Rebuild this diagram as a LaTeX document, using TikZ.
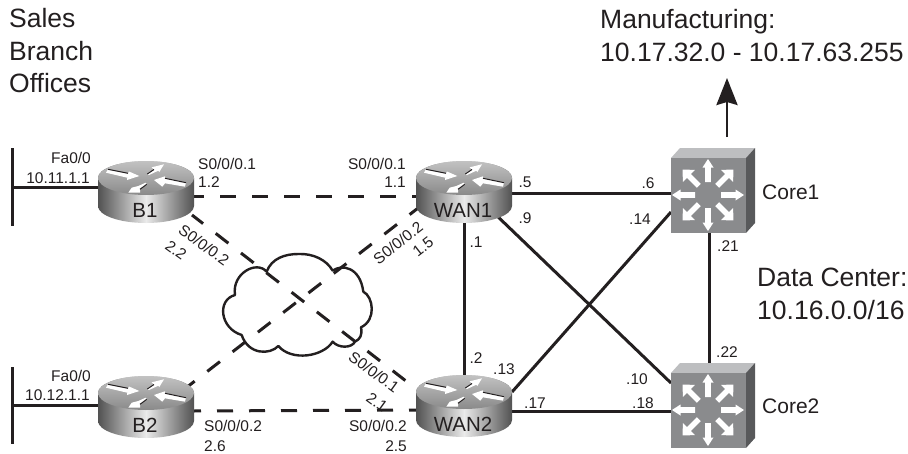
\documentclass[tikz,border=0pt]{standalone}
\usepackage{fontspec}
\setmainfont{Liberation Sans}
\usetikzlibrary{arrows.meta,calc}
\pgfdeclarelayer{bg}
\pgfsetlayers{bg,main}
\definecolor{swfront}{HTML}{8A8B8D}
\definecolor{swtop}{HTML}{BDBEC0}
\definecolor{swside}{HTML}{58595B}
\definecolor{ink}{HTML}{231F20}
\tikzset{
  big/.style={font=\fontsize{26.5}{32.7}\selectfont,text=ink,inner sep=0pt,align=left},
  small/.style={font=\fontsize{15.5}{17}\selectfont,text=ink,inner sep=0pt},
  devname/.style={font=\fontsize{20.5}{22}\selectfont,text=ink,inner sep=0pt},
  sideName/.style={font=\fontsize{21}{23}\selectfont,text=ink,inner sep=0pt},
  solidlink/.style={draw=ink,line width=3pt},
  dashlink/.style={draw=ink,line width=3pt,dash pattern=on 16pt off 16pt},
  arrowedge/.style={draw=ink,line width=1pt},
}
% name, cx, ytop, label
\newcommand{\router}[4]{%
  \begin{scope}[shift={(#2,#3)}]
    \path[left color=black!68,right color=black!68,middle color=white!92!black]
      (-48,17) -- (-48,45) arc[start angle=180,end angle=0,x radius=48,y radius=17] -- (48,17)
      arc[start angle=0,end angle=-180,x radius=48,y radius=17] -- cycle;
    \path[top color=black!24,bottom color=black!46] (0,17) ellipse[x radius=48,y radius=17];
    \fill[white] (-38,8.3) -- (-18,12.3) -- (-17,10.5) -- (-6.7,15) -- (-19,19) -- (-18.7,16.7) -- (-40,11.7) -- cycle;
    \fill[white] (8,19) -- (19,15.3) -- (19,17.3) -- (40,21.7) -- (39,25.7) -- (19,22.3) -- (16.3,25.7) -- cycle;
    \fill[white] (-17.7,31.7) -- (-14.3,26.7) -- (-7.7,25) -- (-0.3,21.7) -- (.7,23.3) -- (-6,28.3) -- (-6,31.7) -- cycle;
    \fill[white] (18,3.3) -- (5.7,6.3) -- (8,8.5) -- (1.3,13) -- (3,14) -- (12.3,9.7) -- (13.3,11) -- cycle;
    \draw[arrowedge] (-38,8.3) -- (-18,12.3);
    \draw[arrowedge] (19,17.3) -- (40,21.7);
    \draw[arrowedge] (-6,28.3) -- (.7,23.3);
    \draw[arrowedge] (1.3,13) -- (8,8.5);
    \node[devname,anchor=base] (#1) at (-1,56) {#4};
    \coordinate (#1-c) at (0,20);
    \coordinate (#1-e) at (47,35);
    \coordinate (#1-w) at (-47,35);
    \coordinate (#1-se) at (46,54);
    \coordinate (#1-ne) at (36,15);
    \coordinate (#1-sw) at (-42,44);
    \coordinate (#1-nw) at (-40,20);
    \coordinate (#1-n) at (0,20);
  \end{scope}}
% one white switch arrow, at an angle
\newcommand{\swarm}[1]{%
  \fill[white,rotate=#1] (13,-2.8) -- (27.5,-2.8) -- (27.5,-5.5) -- (36,0) -- (27.5,5.5) -- (27.5,2.8) -- (13,2.8) -- cycle;}
\newcommand{\swdiag}[1]{%
  \fill[white,rotate=#1] (13,-2.8) -- (27,-2.8) -- (27,-8.5) -- (36,0) -- (27,8.5) -- (27,2.8) -- (13,2.8) -- cycle;}
% name, left x of front, top y of front
\newcommand{\switch}[3]{%
  \begin{scope}[shift={(#2,#3)}]
    \fill[swtop] (0,0) -- (9,-10) -- (84,-10) -- (75,0) -- cycle;
    \fill[swside] (75,0) -- (84,-10) -- (84,65) -- (75,75) -- cycle;
    \fill[swfront] (0,0) rectangle (75,75);
    \begin{scope}[shift={(37,37)}]
      \swarm{0}\swarm{90}\swarm{180}\swarm{270}
      \swdiag{45}\swdiag{135}\swdiag{225}\swdiag{315}
    \end{scope}
    \node[inner sep=0pt,minimum size=0pt] (#1) at (37,37) {};
    \coordinate (#1-n) at (38,0);
    \coordinate (#1-s) at (38,75);
    \coordinate (#1-wm) at (0,37);
    \coordinate (#1-wu) at (0,54);
    \coordinate (#1-wd) at (0,10);
    \coordinate (#1-top) at (56,-21);
  \end{scope}}
\begin{document}
\begin{tikzpicture}[x=1pt,y=-1pt]
\useasboundingbox (0,0) rectangle (908,453);
\begin{pgfonlayer}{bg}
\fill[white] (0,0) rectangle (908,453);
\end{pgfonlayer}

\router{B1}{146}{161}{B1}
\router{WAN1}{464}{161}{WAN1}
\router{B2}{146}{376}{B2}
\router{WAN2}{464}{375}{WAN2}
\switch{Core1}{671}{158}
\switch{Core2}{671}{373}

\coordinate (barAtop) at (12.7,148);
\coordinate (barAbot) at (12.7,226);
\coordinate (barAmid) at (12.7,187);
\coordinate (barBtop) at (12.7,367);
\coordinate (barBbot) at (12.7,444);
\coordinate (barBmid) at (12.7,405);
\coordinate (mfg) at (727,78);
\coordinate (WAN1-ee) at (505,193.5);
\coordinate (WAN2-ee) at (505,411);
\coordinate (WAN1-x) at (495,214);
\coordinate (WAN2-x) at (512,392);

\begin{pgfonlayer}{bg}
  \draw[solidlink] (barAtop) -- (barAbot);
  \draw[solidlink] (barBtop) -- (barBbot);
  \draw[solidlink] (barAmid) -- (B1-c |- barAmid);
  \draw[solidlink] (barBmid) -- (B2-c |- barBmid);
  \draw[dashlink,dash phase=5pt] (B1-e) -- (WAN1-w);
  \draw[dashlink,dash phase=8pt] (B2-e) -- (WAN2-w);
  \draw[dashlink,dash phase=2pt] (B1-se) -- (WAN2-nw);
  \draw[dashlink] (B2-ne) -- (WAN1-sw);
  \draw[solidlink] (WAN1-n) -- (WAN2-n);
  \draw[solidlink] (WAN1-ee) -- (WAN1-ee -| Core1);
  \draw[solidlink] (WAN2-ee) -- (WAN2-ee -| Core2);
  \draw[solidlink] (WAN1-x) -- (Core2-wd);
  \draw[solidlink] (WAN2-x) -- (Core1-wu);
  \draw[solidlink] (Core1-s) -- (Core2-n);
\end{pgfonlayer}
\draw[ink,line width=2.6pt,-{Stealth[length=27pt,width=21pt,inset=3pt]}] (Core1-top) -- (mfg);

% cloud
\begin{scope}[shift={(210,240)},x=.3333pt,y=-.3333pt]
\draw[ink,line width=2.4pt,line join=round]
 (170,95) .. controls (185,55) and (225,42) .. (265,42)
 .. controls (310,40) and (350,60) .. (368,92)
 .. controls (395,72) and (450,80) .. (460,155)
 .. controls (490,170) and (500,240) .. (453,262)
 .. controls (458,285) and (450,298) .. (435,305)
 .. controls (425,325) and (385,325) .. (368,305)
 .. controls (340,350) and (245,365) .. (205,318)
 .. controls (180,345) and (115,345) .. (95,285)
 .. controls (30,265) and (20,180) .. (75,165)
 .. controls (65,100) and (140,60) .. (170,95) -- cycle;
\end{scope}

% labels
\node[big,anchor=north west] (t1) at (9,8) {Sales\\Branch\\Offices};
\node[big,anchor=north west] (t2) at (600,9) {Manufacturing:\\10.17.32.0 - 10.17.63.255};
\node[big,anchor=north west] (t3) at (757,268) {Data Center:\\10.16.0.0/16};
\node[sideName,anchor=base west] (c1l) at (762,199) {Core1};
\node[sideName,anchor=base west] (c2l) at (762,413) {Core2};

\node[small,anchor=base east] (l1) at (91,163) {Fa0/0};
\node[small,anchor=base east] (l2) at (90,183) {10.11.1.1};
\node[small,anchor=base east] (l3) at (91,381) {Fa0/0};
\node[small,anchor=base east] (l4) at (90,400) {10.12.1.1};
\node[small,anchor=base west] (l5) at (198,169) {S0/0/0.1};
\node[small,anchor=base west] (l6) at (198,187) {1.2};
\node[small,anchor=base east] (l7) at (406,169) {S0/0/0.1};
\node[small,anchor=base east] (l8) at (406,187) {1.1};
\node[small,anchor=base west] (l9) at (204,431) {S0/0/0.2};
\node[small,anchor=base west] (l10) at (204,451) {2.6};
\node[small,anchor=base east] (l11) at (407,431) {S0/0/0.2};
\node[small,anchor=base east] (l12) at (407,451) {2.5};
\node[small,rotate=-36] (l13) at (204,245) {S0/0/0.2};
\node[small,rotate=-36] (l14) at (176,250) {2.2};
\node[small,rotate=38] (l15) at (398,243) {S0/0/0.2};
\node[small,rotate=38] (l16) at (423,247) {1.5};
\node[small,rotate=-36] (l17) at (374,372) {S0/0/0.1};
\node[small,rotate=-36] (l18) at (377,402) {2.1};

\node[small] (a1) at (525,182) {.5};
\node[small] (a2) at (648,183) {.6};
\node[small] (a3) at (525,218) {.9};
\node[small] (a4) at (640,219) {.14};
\node[small] (a5) at (476,242) {.1};
\node[small] (a6) at (476,358) {.2};
\node[small] (a7) at (504,369) {.13};
\node[small] (a8) at (535,403) {.17};
\node[small] (a9) at (643,403) {.18};
\node[small] (a10) at (637,379) {.10};
\node[small] (a11) at (728,246) {.21};
\node[small] (a12) at (727,352) {.22};
\end{tikzpicture}
\end{document}
